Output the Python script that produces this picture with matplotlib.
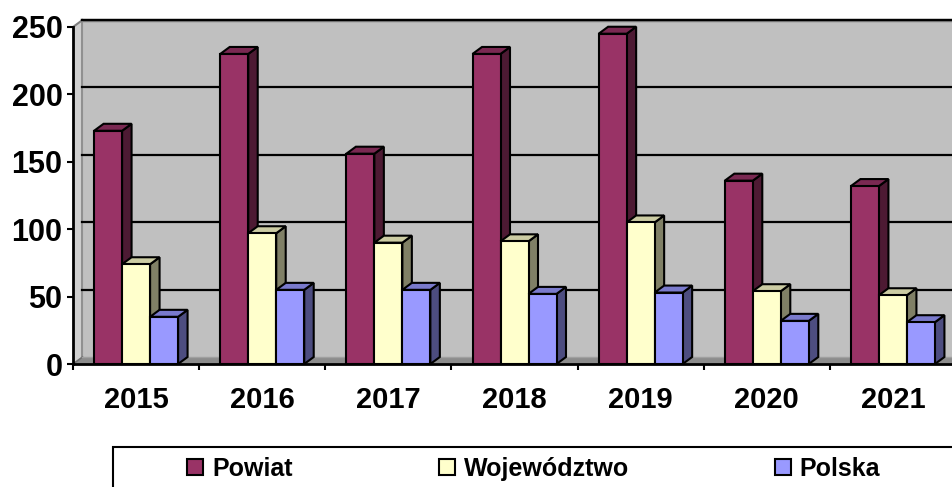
import matplotlib
matplotlib.use("Agg")
import matplotlib.pyplot as plt
from matplotlib.patches import Polygon, Rectangle, Patch
from matplotlib.lines import Line2D

plt.rcParams['font.family'] = ['Liberation Sans', 'DejaVu Sans']
plt.rcParams['font.weight'] = 'bold'

years = ['2015', '2016', '2017', '2018', '2019', '2020', '2021']
series_names = ['Powiat', 'Województwo', 'Polska']
powiat = [173, 230, 156, 230, 245, 136, 132]
wojewodztwo = [74, 97, 90, 91, 105, 54, 51]
polska = [35, 55, 55, 52, 53, 32, 31]
yticks = [0, 50, 100, 150, 200, 250]

front_colors = ['#993366', '#FFFFCC', '#9999FF']
side_colors = ['#4d1a33', '#808066', '#4d4d80']
top_colors = ['#7a2952', '#cccca3', '#7a7acc']

W, H = 952, 487
fig = plt.figure(figsize=(W / 100, H / 100), dpi=100)
ax_left, ax_bottom, ax_w, ax_h = 73, 123, 883, 337
ax = fig.add_axes([ax_left / W, ax_bottom / H, ax_w / W, ax_h / H])
ax.set_facecolor('none')
n = len(years)
ax.set_xlim(-0.5, n - 0.5)
ax.set_ylim(0, 250)

xpx = ax_w / n
ypx = ax_h / 250.0
dx = 9.5 / xpx
dy = 7.0 / ypx
x0, x1 = -0.5, n - 0.5
ytop = 250

# back wall
ax.add_patch(Polygon([(x0 + dx, dy), (x1 + dx, dy), (x1 + dx, ytop + dy), (x0 + dx, ytop + dy)],
                     closed=True, facecolor='#C0C0C0', edgecolor='none', zorder=0, clip_on=False))
# left wall
ax.add_patch(Polygon([(x0, 0), (x0 + dx, dy), (x0 + dx, ytop + dy), (x0, ytop)],
                     closed=True, facecolor='#d0d0d0', edgecolor='none', zorder=0.1, clip_on=False))
# floor
ax.add_patch(Polygon([(x0, 0), (x1, 0), (x1 + dx, dy), (x0 + dx, dy)],
                     closed=True, facecolor='#8c8c8c', edgecolor='none', zorder=0.1, clip_on=False))
# wall edges
ax.add_line(Line2D([x0 + dx, x1 + dx], [ytop + dy, ytop + dy], color='#808080', lw=2.5, zorder=0.2, clip_on=False))
ax.add_line(Line2D([x0 + dx, x0 + dx], [dy, ytop + dy], color='#909090', lw=1.5, zorder=0.2, clip_on=False))
ax.add_line(Line2D([x0, x0 + dx], [ytop, ytop + dy], color='#808080', lw=1.5, zorder=0.2, clip_on=False))
ax.add_line(Line2D([x0, x0 + dx], [0, dy], color='#707070', lw=1.2, zorder=0.2, clip_on=False))
ax.add_line(Line2D([x0 + dx, x1 + dx], [dy, dy], color='#a0a0a0', lw=1.0, zorder=0.2, clip_on=False))

# gridlines on back wall
for v in yticks[1:]:
    ax.add_line(Line2D([x0 + dx, x1 + dx], [v + dy, v + dy], color='black', lw=1.6, zorder=0.3, clip_on=False))

# bars
bw = 28.0 / xpx
data = [powiat, wojewodztwo, polska]
ec = 'black'
lw = 1.5
for ci in range(n):
    for si in range(3):
        v = data[si][ci]
        left = ci - 1.5 * bw + si * bw
        right = left + bw
        z = 2 + si * 0.01 + ci * 0.1
        ax.add_patch(Polygon([(right, 0), (right + dx, dy), (right + dx, v + dy), (right, v)],
                             closed=True, facecolor=side_colors[si], edgecolor=ec, lw=lw, zorder=z, clip_on=False))
        ax.add_patch(Polygon([(left, v), (right, v), (right + dx, v + dy), (left + dx, v + dy)],
                             closed=True, facecolor=top_colors[si], edgecolor=ec, lw=lw, zorder=z, clip_on=False))
        ax.add_patch(Rectangle((left, 0), bw, v, facecolor=front_colors[si], edgecolor=ec, lw=lw,
                               zorder=z + 0.001, clip_on=False))

# axes styling
for s in ['top', 'right']:
    ax.spines[s].set_visible(False)
for s in ['left', 'bottom']:
    ax.spines[s].set_linewidth(2)
    ax.spines[s].set_color('black')
    ax.spines[s].set_zorder(5)

ax.set_yticks(yticks)
ax.set_yticklabels([str(t) for t in yticks], fontsize=22, fontweight='bold')
ax.tick_params(axis='y', direction='out', length=4.5, width=1.5, pad=3)

ax.set_xticks(range(n))
ax.set_xticklabels(years, fontsize=21, fontweight='bold')
ax.tick_params(axis='x', which='major', length=0, pad=16)
ax.set_xticks([i - 0.5 for i in range(n + 1)], minor=True)
ax.tick_params(axis='x', which='minor', direction='out', length=4.5, width=1.5)

# legend frame
fig.patches.append(Rectangle((113 / W, -10 / H), 860 / W, (487 - 447 + 10) / H,
                             transform=fig.transFigure, facecolor='white', edgecolor='black',
                             lw=1.5, zorder=0))
handles = [Patch(facecolor=front_colors[i], edgecolor='black', lw=1.5) for i in range(3)]
fs = 18
fspx = fs * 100 / 72
leg = fig.legend(handles, series_names, ncol=3, loc='center left',
                 bbox_to_anchor=(187 / W, (487 - 469) / H), frameon=False,
                 prop={'size': fs, 'weight': 'bold'},
                 handlelength=16 / fspx, handleheight=16 / fspx,
                 handletextpad=9 / fspx, columnspacing=146 / fspx,
                 borderpad=0, borderaxespad=0)

fig.savefig('out.png', dpi=100)
